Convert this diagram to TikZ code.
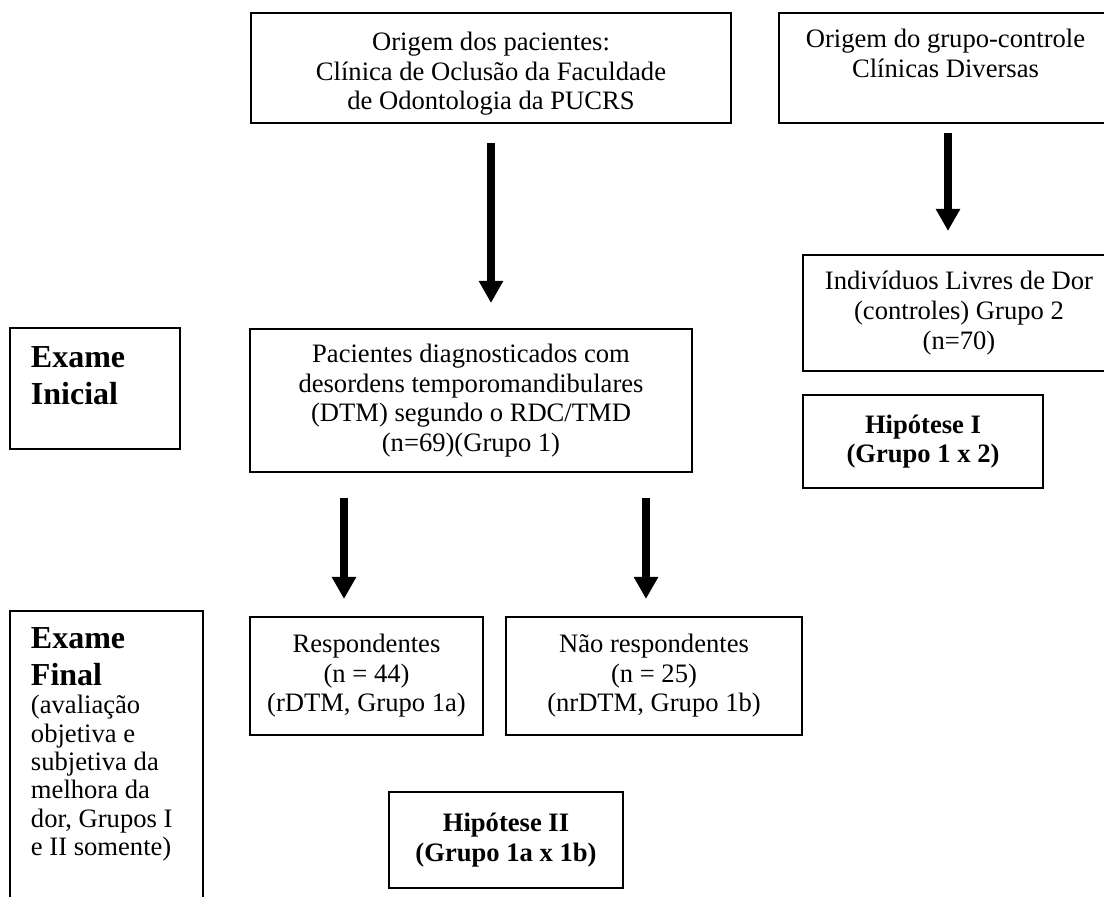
\documentclass[tikz,border=0pt]{standalone}
\usepackage{fontspec}
\setmainfont{Liberation Serif}
\usepackage{tikz}
\usetikzlibrary{arrows.meta}
\newcommand{\textofonte}{\fontsize{13.3}{14.8}\selectfont}
\newcommand{\notafonte}{\fontsize{13.3}{14.2}\selectfont}
\newcommand{\titulofonte}{\fontsize{16}{18.5}\selectfont\bfseries}
\tikzstyle{caixa}=[draw, line width=1pt, inner sep=0, align=center, font=\textofonte]
\tikzstyle{hcaixa}=[caixa, font=\textofonte\bfseries]
\tikzstyle{seta}=[line width=4pt, -{Triangle[width=11.5pt, length=11pt]}]
\tikzstyle{fluxograma}=[x=0.5pt, y=-0.5pt,
                        % Fix the page to the size of the scan.
                        execute at begin picture={\useasboundingbox (0, 0) rectangle (1104, 897);}]
\begin{document}
\begin{tikzpicture}[fluxograma]
        \node[caixa, inner ysep=9.5pt] (orig) at (491, 68)
            {\parbox[t][36pt][t]{240pt}{\centering Origem dos pacientes:\\Clínica de Oclusão da Faculdade\\de Odontologia da PUCRS}};
        \node[caixa, inner ysep=8pt] (ctrl) at (945.5, 68)
            {\parbox[t][39pt][t]{166.5pt}{\centering Origem do grupo-controle\\Clínicas Diversas}};
        \node[caixa, minimum width=156pt, minimum height=58pt] (livres) at (959, 313)
            {Indivíduos Livres de Dor\\(controles) Grupo 2\\(n=70)};
        \node[hcaixa, minimum width=120pt, minimum height=46.5pt] (hipI) at (923, 441.5)
            {Hipótese I\\(Grupo 1 x 2)};
        \node[caixa, minimum width=221pt, minimum height=71.5pt] (pac) at (471, 400.5)
            {Pacientes diagnosticados com\\desordens temporomandibulares\\(DTM) segundo o RDC/TMD\\(n=69)(Grupo 1)};
        \node[caixa, inner xsep=10.5pt, inner ysep=9.2pt] (inicial) at (95, 388.5)
            {\parbox[t][42.1pt][t]{64pt}{\raggedright\titulofonte Exame\\Inicial}};
        \node[caixa, minimum width=116.5pt, minimum height=59pt] (resp) at (366.5, 676)
            {Respondentes\\(n = 44)\\(rDTM, Grupo 1a)};
        \node[caixa, minimum width=148pt, minimum height=59pt] (nresp) at (654, 676)
            {Não respondentes\\(n = 25)\\(nrDTM, Grupo 1b)};
        \node[caixa, inner xsep=10.5pt, inner ysep=8.2pt, anchor=north] (final) at (106.5, 610)
            {\parbox[t][133.6pt][t]{75.5pt}{\raggedright{\titulofonte Exame\\Final\par}\notafonte
             (avaliação\\objetiva e\\subjetiva da\\melhora da\\dor, Grupos I\\e II somente)}};
        \node[hcaixa, minimum width=117pt, minimum height=48pt] (hipII) at (506, 840)
            {Hipótese II\\(Grupo 1a x 1b)};
        % Columns of the arrows that do not sit under a box centre.
        \coordinate (colc) at (948, 0);
        \coordinate (cole) at (344, 0);
        \coordinate (cold) at (646, 0);
        \draw[seta, shorten <=9.5pt, shorten >=12.5pt] (orig.south) -- (orig.south |- pac.north);
        \draw[seta, shorten <=4.5pt, shorten >=11.5pt] (ctrl.south -| colc) -- (livres.north -| colc);
        \draw[seta, shorten <=12.5pt, shorten >=8.5pt] (pac.south -| cole) -- (resp.north -| cole);
        \draw[seta, shorten <=12.5pt, shorten >=8.5pt] (pac.south -| cold) -- (nresp.north -| cold);
    \end{tikzpicture}
\end{document}
